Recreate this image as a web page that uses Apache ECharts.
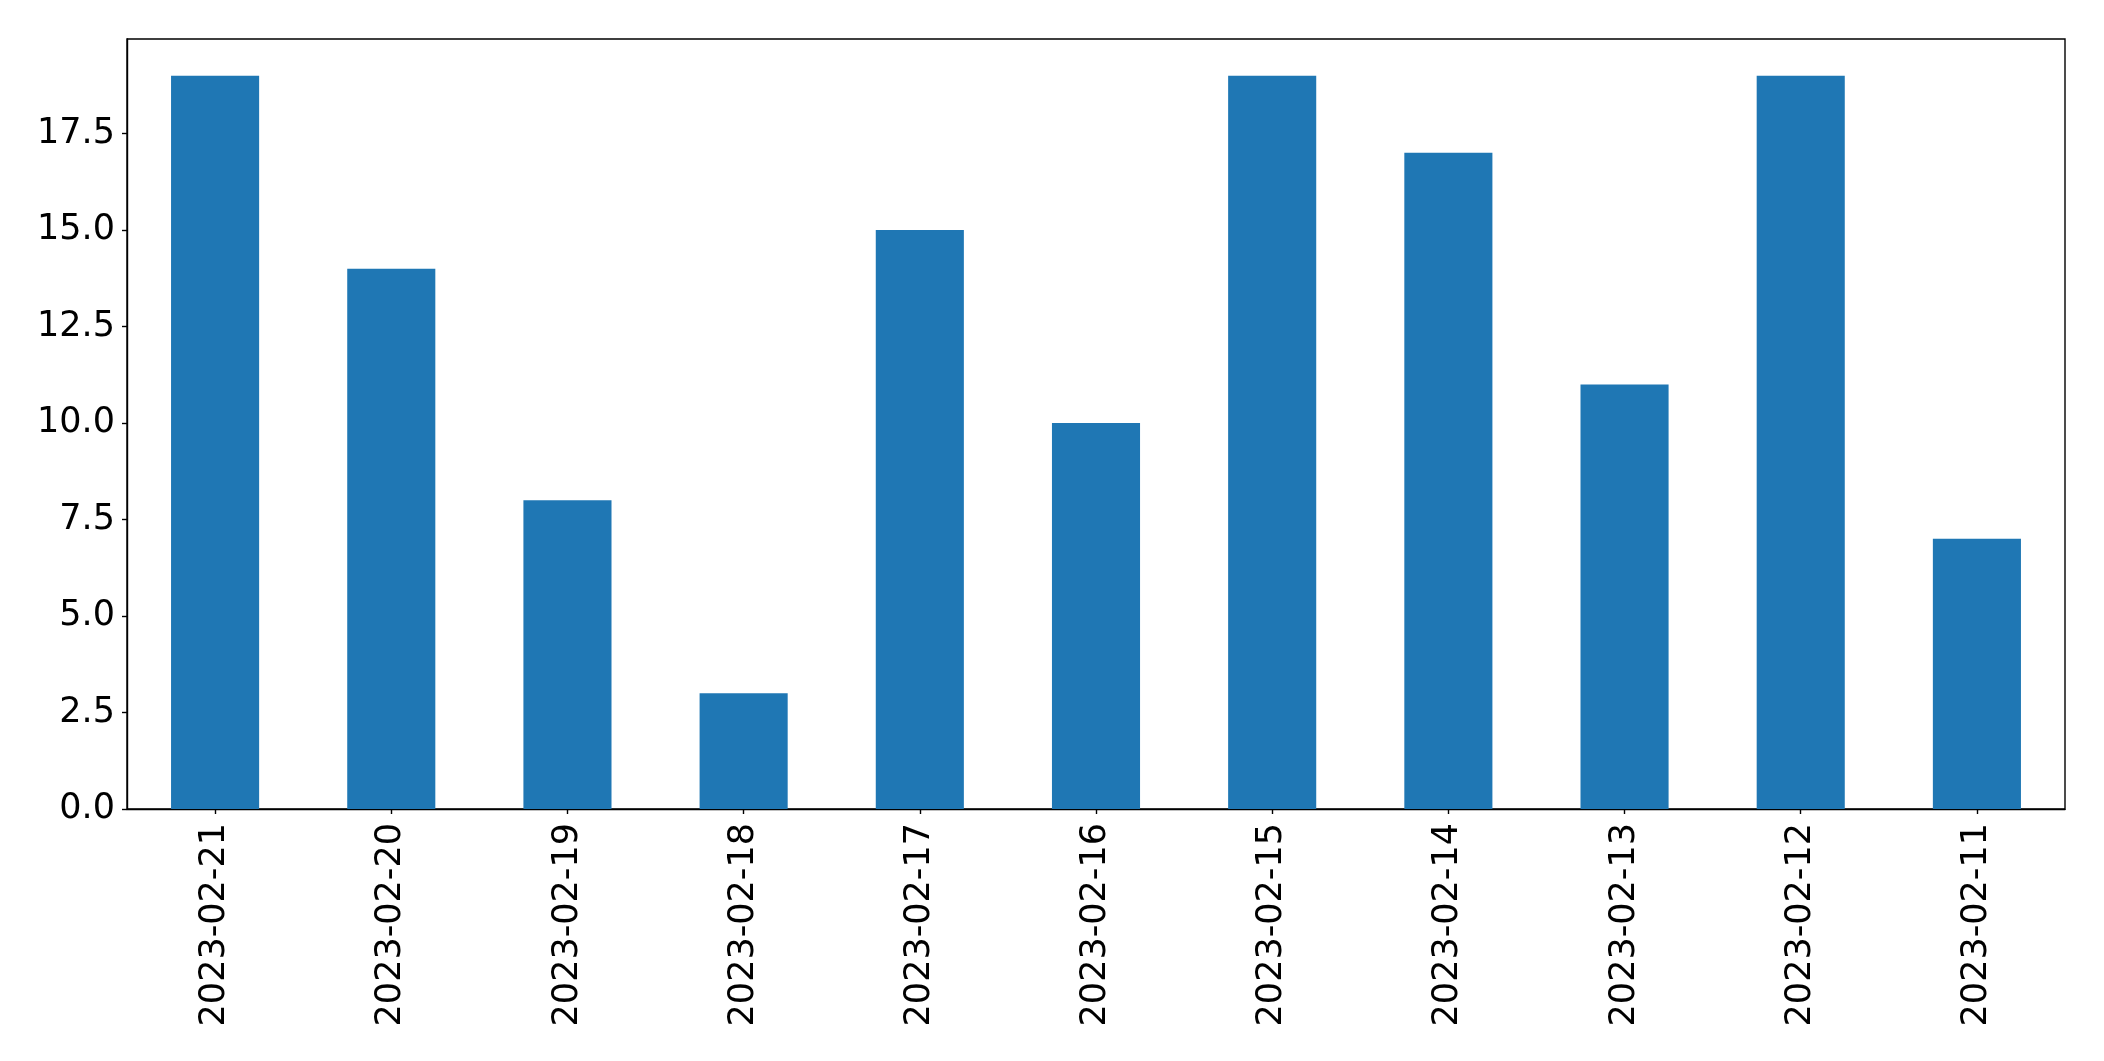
<!DOCTYPE html>
<html>
<head>
<meta charset="utf-8">
<script src="https://cdn.jsdelivr.net/npm/echarts@6/dist/echarts.min.js"></script>
<style>html,body{margin:0;padding:0;background:#fff}#c{width:2104px;height:1061px}</style>
</head>
<body>
<div id="c"></div>
<script>
const categories = ['2023-02-21','2023-02-20','2023-02-19','2023-02-18','2023-02-17','2023-02-16','2023-02-15','2023-02-14','2023-02-13','2023-02-12','2023-02-11'];
const values = [19, 14, 8, 3, 15, 10, 19, 17, 11, 19, 7];
const yTicks = [0, 2.5, 5, 7.5, 10, 12.5, 15, 17.5];

const chart = echarts.init(document.getElementById('c'));
const font = 'DejaVu Sans';
chart.setOption({
  animation: false,
  backgroundColor: '#fff',
  grid: { left: 127, top: 39, right: 39, bottom: 252, show: true, borderColor: '#000', borderWidth: 1.4, backgroundColor: 'transparent' },
  xAxis: {
    type: 'category',
    data: categories,
    boundaryGap: true,
    axisLine: { show: true, lineStyle: { color: '#000', width: 1.4 } },
    axisTick: { show: true, alignWithLabel: true, length: 5, lineStyle: { color: '#000', width: 1.4 } },
    axisLabel: { rotate: 90, interval: 0, margin: 14, color: '#000', fontFamily: font, fontSize: 35 },
    splitLine: { show: false }
  },
  yAxis: {
    type: 'value',
    min: 0,
    max: 19.95,
    interval: 2.5,
    axisLine: { show: true, lineStyle: { color: '#000', width: 1.4 } },
    axisTick: { show: true, length: 5, customValues: yTicks, lineStyle: { color: '#000', width: 1.4 } },
    axisLabel: {
      color: '#000', fontFamily: font, fontSize: 35, margin: 12,
      customValues: yTicks,
      formatter: function (v) {
        return yTicks.some(t => Math.abs(t - v) < 1e-6) ? Number(v).toFixed(1) : '';
      }
    },
    splitLine: { show: false }
  },
  series: [{
    type: 'bar',
    data: values,
    barWidth: '50%',
    itemStyle: { color: '#1f77b4' }
  }]
});
</script>
</body>
</html>
